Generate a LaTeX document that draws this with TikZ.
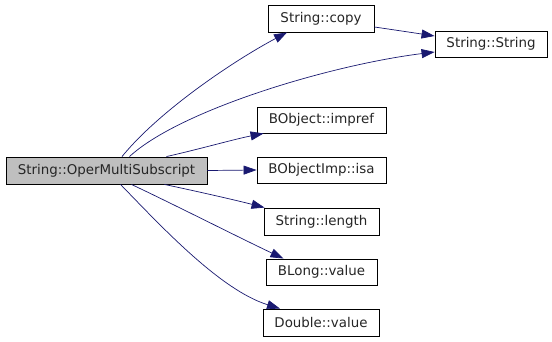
\documentclass[tikz,border=0pt]{standalone}
\usepackage{fontspec}
\setmainfont{DejaVu Sans}
\usetikzlibrary{arrows.meta}
\definecolor{edgeblue}{HTML}{191970}
\definecolor{mainfill}{HTML}{BFBFBF}
\tikzset{
  fn/.style={draw=black, line width=0.9pt, rectangle, inner sep=0pt, fill=white,
    font=\fontsize{13.4}{15}\selectfont, text=black!85},
  call/.style={draw=edgeblue, line width=0.7pt,
    -{Triangle[length=13pt,width=9pt]}, fill=none},
}
\begin{document}
\begin{tikzpicture}[x=1pt,y=-1pt]
\useasboundingbox (0,0) rectangle (552,341);
\node[fn, fill=mainfill, minimum width=201pt, minimum height=27pt] (main) at (106.5,170.5) {String::OperMultiSubscript};
\node[fn, minimum width=106pt, minimum height=27pt] (copy) at (321,18.5) {String::copy};
\node[fn, minimum width=112pt, minimum height=26pt] (str) at (491,44) {String::String};
\node[fn, minimum width=129pt, minimum height=26pt] (impref) at (321.5,120) {BObject::impref};
\node[fn, minimum width=129pt, minimum height=26pt] (isa) at (321.5,170) {BObjectImp::isa};
\node[fn, minimum width=115pt, minimum height=27pt] (len) at (321.5,221.5) {String::length};
\node[fn, minimum width=111pt, minimum height=26pt] (blong) at (321.5,272) {BLong::value};
\node[fn, minimum width=116pt, minimum height=27pt] (dbl) at (321,322.5) {Double::value};

\draw[call] ([xshift=15.5pt]main.north) .. controls (160,110) and (235,60) .. ([xshift=-34pt]copy.south);
\draw[call] ([xshift=23pt]main.north) .. controls (180,110) and (330,65) .. ([yshift=-8pt]str.west);
\draw[call] ([yshift=-8.5pt]copy.east) .. controls (395,30) and (415,33) .. ([yshift=8pt]str.west);
\draw[call] ([xshift=60pt]main.north) .. controls (200,149) and (235,139) .. ([xshift=7pt]impref.south west);
\draw[call] (main.east) -- (isa.west);
\draw[call] ([xshift=58pt]main.south) .. controls (200,192) and (235,200) .. ([xshift=1pt]len.north west);
\draw[call] ([xshift=25pt]main.south) .. controls (175,205) and (240,238) .. ([xshift=-38pt]blong.north);
\draw[call] ([xshift=14pt]main.south) .. controls (160,225) and (220,290) .. ([xshift=-41pt]dbl.north);
\end{tikzpicture}
\end{document}
